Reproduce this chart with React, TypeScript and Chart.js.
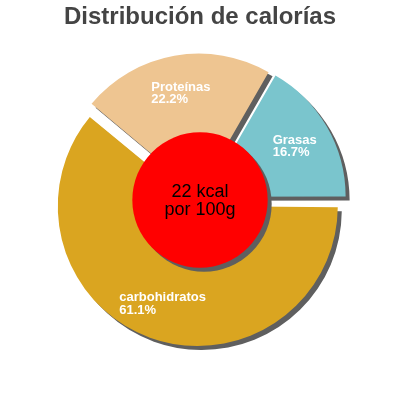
import { useEffect, useRef } from 'react';
import { Chart, registerables } from 'chart.js';

Chart.register(...registerables);

const TITLE = 'Distribución de calorías';
const LABELS = ['carbohidratos', 'Proteínas', 'Grasas'];
const VALUES = [61.1, 22.2, 16.7];
const COLORS = ['#DAA520', '#EEC591', '#7AC5CD'];
const CENTER_LINES = ['22 kcal', 'por 100g'];

const SHADOW = '#5f5f5f';
const FONT = '"Liberation Sans", Arial, sans-serif';

// chart.js grows the radius of exploded slices wider than 180deg; undo that so all slices match
const radiusFix = {
  id: 'radiusFix',
  afterUpdate(chart: any) {
    const meta = chart.getDatasetMeta(0);
    meta.data.forEach((arc: any) => {
      const off = (arc.options.offset || 0) / 4;
      arc.outerRadius -= off * (1 - Math.sin(Math.min(Math.PI, arc.circumference)));
    });
  },
};

const decor = {
  id: 'decor',
  beforeDatasetsDraw(chart: any) {
    const ctx = chart.ctx;
    ctx.save();
    ctx.shadowColor = SHADOW;
    ctx.shadowOffsetX = 4;
    ctx.shadowOffsetY = 4;
    ctx.shadowBlur = 0;
  },
  afterDatasetsDraw(chart: any) {
    const ctx = chart.ctx;
    const meta = chart.getDatasetMeta(0);
    const first = meta.data[0];
    const cx = first.x, cy = first.y, r = first.outerRadius;

    // red centre disc, still with the shadow on
    ctx.fillStyle = '#ff0000';
    ctx.beginPath();
    ctx.arc(cx, cy, r * 0.507, 0, Math.PI * 2);
    ctx.fill();
    ctx.restore();

    ctx.save();
    ctx.fillStyle = '#000';
    ctx.font = `18px ${FONT}`;
    ctx.textAlign = 'center';
    ctx.textBaseline = 'alphabetic';
    ctx.fillText(CENTER_LINES[0], cx, cy - 3);
    ctx.fillText(CENTER_LINES[1], cx, cy + 15);

    // slice labels
    const total = VALUES.reduce((a, b) => a + b, 0);
    ctx.fillStyle = '#fff';
    ctx.font = `bold 13px ${FONT}`;
    ctx.textAlign = 'left';
    meta.data.forEach((arc: any, i: number) => {
      const mid = (arc.startAngle + arc.endAngle) / 2;
      const lx = cx + Math.cos(mid) * r * 0.82;
      const ly = cy + Math.sin(mid) * r * 0.82;
      const l1 = LABELS[i];
      const l2 = (VALUES[i] / total * 100).toFixed(1) + '%';
      const w = Math.max(ctx.measureText(l1).width, ctx.measureText(l2).width);
      ctx.fillText(l1, lx - w / 2, ly - 1.6);
      ctx.fillText(l2, lx - w / 2, ly + 10.9);
    });
    ctx.restore();
  },
};

export default function App() {
  const canvasRef = useRef<HTMLCanvasElement>(null);

  useEffect(() => {
    if (!canvasRef.current) return;
    const chart = new Chart(canvasRef.current.getContext('2d')!, {
      type: 'pie',
      data: {
        labels: LABELS,
        datasets: [{
          data: VALUES,
          backgroundColor: COLORS,
          borderWidth: 0,
          offset: 26,
        }],
      },
      options: {
        responsive: false,
        animation: false,
        rotation: 90,
        layout: { padding: { left: 47, right: 47, bottom: 47, top: 0 } },
        plugins: {
          legend: { display: false },
          tooltip: { enabled: false },
          title: {
            display: true,
            text: TITLE,
            color: '#444444',
            font: { size: 24, weight: 'bold', family: FONT, lineHeight: 1.2 },
            padding: { top: 2.6, bottom: 15.6 },
          },
        },
      },
      plugins: [radiusFix, decor],
    });
    return () => { chart.destroy(); };
  }, []);

  return (
    <div style={{ position: 'fixed', left: 0, top: 0, width: 400, height: 400, background: '#fff' }}>
      <canvas ref={canvasRef} width={400} height={400} style={{ width: 400, height: 400 }} />
    </div>
  );
}
